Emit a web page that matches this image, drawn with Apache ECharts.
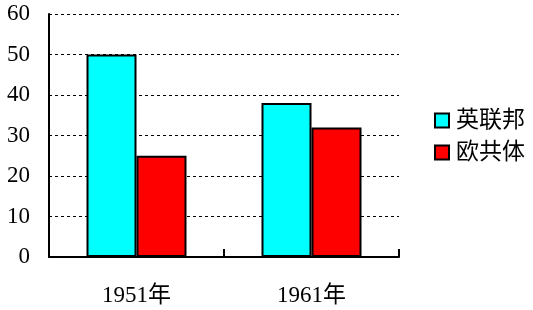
<!DOCTYPE html>
<html><head><meta charset="utf-8">
<script src="https://cdn.jsdelivr.net/npm/echarts@6/dist/echarts.min.js"></script>
<style>html,body{margin:0;padding:0;background:#fff}#c{width:533px;height:310px}</style>
</head><body><div id="c"></div>
<script>
const categories = ['1951年', '1961年'];
const seriesNames = ['英联邦', '欧共体'];
const commonwealth = [50, 38];
const eec = [25, 32];
const yTicks = [0, 10, 20, 30, 40, 50, 60];

const font = '"Liberation Serif", "Times New Roman", "Noto Sans CJK SC", serif';
const chart = echarts.init(document.getElementById('c'));
chart.setOption({
  animation: false,
  backgroundColor: '#fff',
  grid: { left: 49, top: 14, right: 134, bottom: 53 },
  legend: {
    orient: 'vertical', left: 429, top: 104,
    itemWidth: 14, itemHeight: 14, itemGap: 9,
    itemStyle: { borderColor: '#000', borderWidth: 2 },
    textStyle: { fontFamily: font, fontSize: 23, color: '#000', padding: [0, 0, 0, 2] },
    data: seriesNames.map(n => ({ name: n, icon: 'rect' }))
  },
  xAxis: {
    type: 'category', data: categories,
    axisLine: { lineStyle: { color: '#000', width: 2 } },
    axisTick: { show: true, inside: true, length: 8, lineStyle: { color: '#000', width: 2 } },
    axisLabel: { fontFamily: font, fontSize: 23, color: '#000', margin: 27 }
  },
  yAxis: {
    type: 'value', min: yTicks[0], max: yTicks[yTicks.length - 1], interval: 10,
    axisLine: { show: true, lineStyle: { color: '#000', width: 2 } },
    axisTick: { show: false },
    axisLabel: { fontFamily: font, fontSize: 23, color: '#000', margin: 19 },
    splitLine: { lineStyle: { color: '#000', type: [3, 3], width: 1 } }
  },
  series: [
    { name: seriesNames[0], type: 'bar', data: commonwealth, barWidth: 50, barGap: '0%',
      itemStyle: { color: '#00FFFF', borderColor: '#000', borderWidth: 2 } },
    { name: seriesNames[1], type: 'bar', data: eec, barWidth: 50, barGap: '0%',
      itemStyle: { color: '#FF0000', borderColor: '#000', borderWidth: 2 } }
  ]
});
</script></body></html>
